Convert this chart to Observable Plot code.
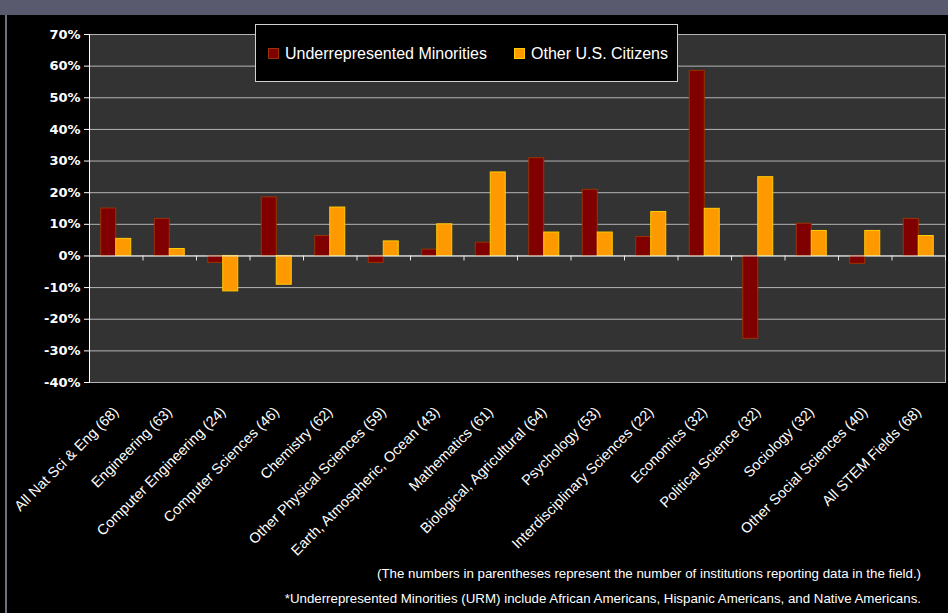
<!DOCTYPE html>
<html><head><meta charset="utf-8">
<script src="https://cdn.jsdelivr.net/npm/d3@7"></script>
<script src="https://cdn.jsdelivr.net/npm/@observablehq/plot@0.6"></script>
<style>
html,body{margin:0;padding:0;background:#000;}
#wrap{position:relative;width:948px;height:613px;overflow:hidden;background:#000;}
#strip{position:absolute;left:0;top:0;width:948px;height:15px;background:#5a5a6e;}
#edge{position:absolute;left:5px;top:15px;width:2px;height:598px;background:#6e6e7e;}
#chart{position:absolute;left:0;top:0;}
#legend{position:absolute;left:255px;top:24px;width:421px;height:56px;background:#000;border:1px solid #d0d0d0;font-family:"Liberation Sans",Arial,sans-serif;font-size:16px;color:#fff;}
.item{position:absolute;top:20px;height:18px;line-height:18px;white-space:nowrap;}
.sw{display:inline-block;width:9px;height:9px;margin-right:6px;vertical-align:0px;}
#footer{position:absolute;right:27px;top:561px;text-align:right;font-family:"Liberation Sans",Arial,sans-serif;font-size:13.3px;color:#fff;line-height:25px;}
</style>
</head><body>
<div id="wrap">
  <div id="strip"></div>
  <div id="edge"></div>
  <div id="chart"></div>
  <div id="legend"></div>
  <div id="footer"></div>
</div>
<script>
const categories = [
  "All Nat Sci & Eng (68)", "Engineering (63)", "Computer Engineering (24)",
  "Computer Sciences (46)", "Chemistry (62)", "Other Physical Sciences (59)",
  "Earth, Atmospheric, Ocean (43)", "Mathematics (61)", "Biological, Agricultural (64)",
  "Psychology (53)", "Interdisciplinary Sciences (22)", "Economics (32)",
  "Political Science (32)", "Sociology (32)", "Other Social Sciences (40)", "All STEM Fields (68)"
];
const urm   = [15.0, 11.7, -2.2, 18.5, 6.3, -2.2, 2.0, 4.2, 30.9, 20.9, 6.0, 58.5, -26.2, 10.2, -2.5, 11.7];
const other = [5.4, 2.2, -11.2, -9.1, 15.3, 4.6, 10.0, 26.4, 7.4, 7.4, 13.9, 14.9, 24.9, 7.9, 7.9, 6.3];
const seriesNames = ["Underrepresented Minorities", "Other U.S. Citizens"];
const seriesColors = ["#800000", "#ff9900"];
const seriesStrokes = ["#993300", "#ffcc00"];
const yTicks = [-40, -30, -20, -10, 0, 10, 20, 30, 40, 50, 60, 70];
const footnotes = [
  "(The numbers in parentheses represent the number of institutions reporting data in the field.)",
  "*Underrepresented Minorities (URM) include African Americans, Hispanic Americans, and Native Americans."
];

const rows = categories.map((c, i) => ({category: c, urm: urm[i], other: other[i]}));

const W = 948, H = 560, ML = 89, MR = 3, MT = 34, MB = H - 382;
const bw = (W - ML - MR) / categories.length;
const barW = 15;

const chart = Plot.plot({
  width: W, height: H,
  marginLeft: ML, marginRight: MR, marginTop: MT, marginBottom: MB,
  style: {background: "transparent", color: "#fff", fontFamily: "'Liberation Sans', Arial, sans-serif", fontSize: "14.5px"},
  x: {domain: categories, padding: 0, round: false, label: null},
  y: {domain: [-40, 70], label: null},
  marks: [
    Plot.frame({fill: "#333333", stroke: "#b4b4b4"}),
    Plot.ruleY(yTicks, {stroke: "#b4b4b4"}),
    Plot.barY(rows, {x: "category", y: "urm", fill: seriesColors[0], stroke: seriesStrokes[0], insetLeft: bw / 2 - barW, insetRight: bw / 2}),
    Plot.barY(rows, {x: "category", y: "other", fill: seriesColors[1], stroke: seriesStrokes[1], insetLeft: bw / 2, insetRight: bw / 2 - barW}),
    Plot.ruleY([0], {stroke: "#e6e6e6"}),
    Plot.ruleX(categories, {x: d => d, dx: bw / 2, y1: 0, y2: 0, insetBottom: -5, stroke: "#e6e6e6"}),
    Plot.frame({anchor: "left", stroke: "#ffffff"}),
    Plot.axisY(yTicks, {tickFormat: d => d + "%", tickSize: 5, tickPadding: 4, fontWeight: "bold", fontFamily: "DejaVu Sans", fontSize: 13}),
    Plot.axisX({anchor: "bottom", tickSize: 0, tickRotate: -45, tickPadding: 27, label: null})
  ]
});
document.getElementById("chart").appendChild(chart);

const legend = document.getElementById("legend");
const lx = [12, 258];
seriesNames.forEach((name, i) => {
  const it = document.createElement("div");
  it.className = "item";
  it.style.left = lx[i] + "px";
  const sw = document.createElement("span");
  sw.className = "sw";
  sw.style.background = seriesColors[i];
  sw.style.border = "1px solid " + seriesStrokes[i];
  it.appendChild(sw);
  it.appendChild(document.createTextNode(name));
  legend.appendChild(it);
});

const footer = document.getElementById("footer");
footnotes.forEach(t => {
  const d = document.createElement("div");
  d.textContent = t;
  footer.appendChild(d);
});
</script>
</body></html>
